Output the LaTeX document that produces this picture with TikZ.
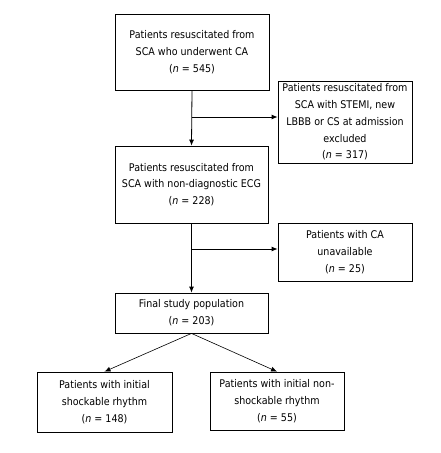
\documentclass[tikz,border=0pt]{standalone}
\usepackage{fontspec}
\setmainfont{DejaVu Sans Condensed}
\usetikzlibrary{arrows.meta}
\begin{document}
\begin{tikzpicture}[x=1pt,y=-1pt,
  box/.style={draw,line width=0.8pt,align=center,inner sep=2pt,font=\fontsize{10.6}{16.7}\selectfont},
  arr/.style={line width=0.8pt,-{Latex[length=6pt,width=5pt]}}]
\useasboundingbox (0,0) rectangle (441,453);
\node[box,minimum width=154pt,minimum height=76pt] (b1) at (192,52) {Patients resuscitated from\\SCA who underwent CA\\(\textit{n} = 545)};
\node[box,minimum width=134pt,minimum height=82pt] (b2) at (345,122) {Patients resuscitated from\\SCA with STEMI, new\\LBBB or CS at admission\\excluded\\(\textit{n} = 317)};
\node[box,minimum width=153pt,minimum height=77pt] (b3) at (191.5,184.5) {Patients resuscitated from\\SCA with non-diagnostic ECG\\(\textit{n} = 228)};
\node[box,minimum width=134pt,minimum height=58pt] (b4) at (345,252) {Patients with CA\\unavailable\\(\textit{n} = 25)};
\node[box,minimum width=153pt,minimum height=40pt] (b5) at (191.5,313) {Final study population\\(\textit{n} = 203)};
\node[box,minimum width=135pt,minimum height=60pt] (b6) at (104.5,402) {Patients with initial\\shockable rhythm\\(\textit{n} = 148)};
\node[box,minimum width=134pt,minimum height=58pt] (b7) at (277,401) {Patients with initial non-\\shockable rhythm\\(\textit{n} = 55)};
\coordinate (j1) at (b1.south |- 0,117);
\coordinate (j2) at (b3.south |- 0,249);
\draw[arr] (b1.south) -- (b3.north);
\draw[arr] (j1) -- (j1 -| b2.west);
\draw[arr] (b3.south) -- (b5.north);
\draw[arr] (j2) -- (j2 -| b4.west);
\draw[arr,line width=0.6pt] (b5.south) -- (b6.north);
\draw[arr,line width=0.6pt] (b5.south) -- (b7.north);
\end{tikzpicture}
\end{document}
